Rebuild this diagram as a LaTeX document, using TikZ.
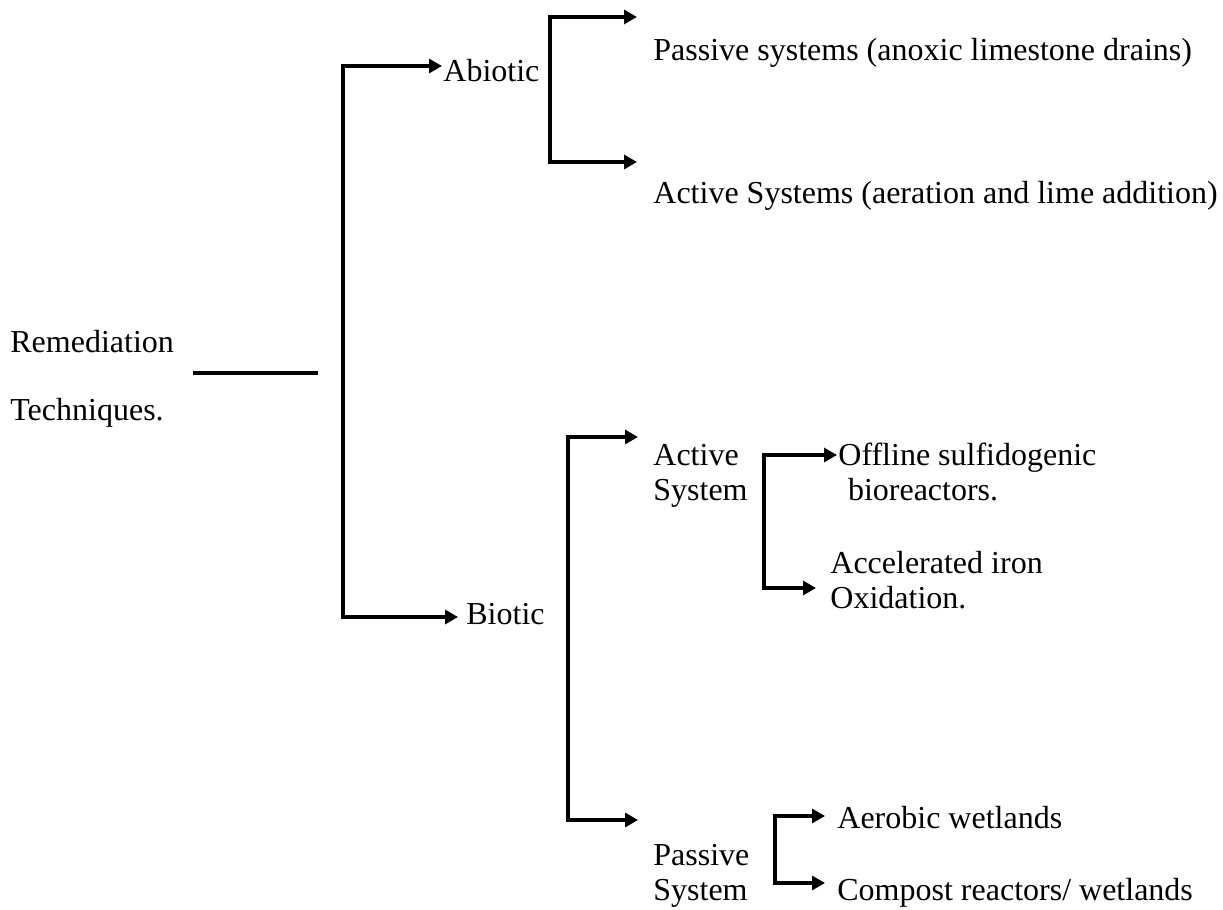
\documentclass[tikz,border=0pt]{standalone}
\usepackage{fontspec}
\setmainfont{Liberation Serif}
\usetikzlibrary{arrows.meta}

\begin{document}
\begin{tikzpicture}[x=0.5pt, y=-0.5pt,
  conn/.style={line width=1.6pt},
  arr/.style={conn, -{Triangle[length=6.5pt,width=7pt]}},
  lbl/.style={anchor=base west, inner sep=0pt, align=left,
    font=\fontsize{16}{17.5}\selectfont}]
  \useasboundingbox (0,0) rectangle (1223,910);

  % texts (multi-line nodes sit on their last baseline)
  \node[lbl, font=\fontsize{16}{34}\selectfont] (root) at (10,420) {Remediation\\Techniques.};
  \node[lbl] (abiotic) at (443,81) {Abiotic};
  \node[lbl] (biotic) at (466,624) {Biotic};
  \node[lbl] (passiveab) at (653,61) {Passive systems (anoxic limestone drains)};
  \node[lbl] (activeab) at (653,203) {Active Systems (aeration and lime addition)};
  \node[lbl] (activesys) at (653,500) {Active\\System};
  \node[lbl] (offline) at (838,500) {Offline sulfidogenic\\\hspace*{0.3em}bioreactors.};
  \node[lbl] (accel) at (830,608) {Accelerated iron\\Oxidation.};
  \node[lbl] (passivesys) at (653,900) {Passive\\System};
  \node[lbl] (aerobic) at (837,828) {Aerobic wetlands};
  \node[lbl] (compost) at (837,900) {Compost reactors/ wetlands};

  % joints and arrow ends
  \coordinate (rootL) at (193,373);
  \coordinate (rootR) at (318,373);
  \coordinate (trunk) at (343,340);
  \coordinate (tabiotic) at (442,66);
  \coordinate (tbiotic) at (458,617);
  \coordinate (abr) at (550,90);
  \coordinate (tpassiveab) at (637,17);
  \coordinate (tactiveab) at (637,162);
  \coordinate (bbr) at (568,600);
  \coordinate (tactivesys) at (638,437);
  \coordinate (tpassivesys) at (638,820);
  \coordinate (asbr) at (764,520);
  \coordinate (toffline) at (837,455);
  \coordinate (taccel) at (816,588);
  \coordinate (psbr) at (775,850);
  \coordinate (taerobic) at (825,816);
  \coordinate (tcompost) at (825,883);

  \draw[conn] (rootL) -- (rootR);
  \draw[arr] (trunk) |- (tabiotic);
  \draw[arr] (trunk) |- (tbiotic);
  \draw[arr] (abr) |- (tpassiveab);
  \draw[arr] (abr) |- (tactiveab);
  \draw[arr] (bbr) |- (tactivesys);
  \draw[arr] (bbr) |- (tpassivesys);
  \draw[arr] (asbr) |- (toffline);
  \draw[arr] (asbr) |- (taccel);
  \draw[arr] (psbr) |- (taerobic);
  \draw[arr] (psbr) |- (tcompost);
\end{tikzpicture}
\end{document}
